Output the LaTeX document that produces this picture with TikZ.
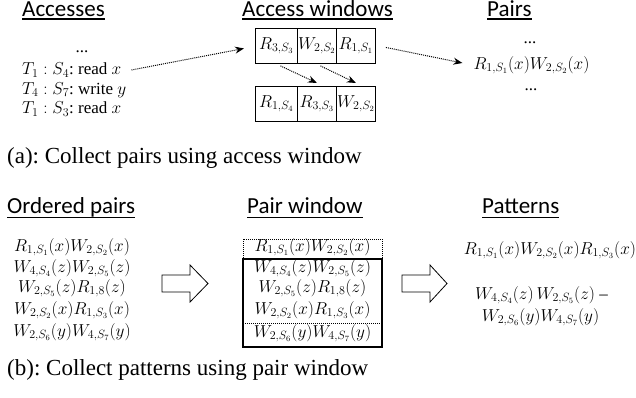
\documentclass[tikz,border=0pt]{standalone}
\usepackage{fontspec}
\setmainfont{Liberation Serif}
\newfontfamily\headfont{Carlito}
\usetikzlibrary{arrows.meta}
\frenchspacing
\begin{document}
\begin{tikzpicture}[x=1pt,y=-1pt]
\tikzset{
  head/.style={font=\headfont\fontsize{23}{26}\selectfont, inner sep=0, anchor=base west},
  uline/.style={line width=1.8pt},
  mtext/.style={font=\fontsize{17}{20}\selectfont, inner sep=0},
  captext/.style={font=\fontsize{23}{26}\selectfont, inner sep=0, anchor=west},
  cell/.style={draw, line width=0.9pt, minimum height=35pt, inner sep=0, anchor=north west, font=\fontsize{17}{20}\selectfont},
  dotarrow/.style={densely dotted, line width=1pt, -{Stealth[length=9pt,width=7pt]}},
  blockarrow/.style={draw, line width=0.8pt, fill=white},
  winsolid/.style={draw, line width=1.2pt},
  windot/.style={draw, densely dotted, line width=1pt},
}
\useasboundingbox (0,0) rectangle (636,398);

% ---- headings (a)
\node[head] (h1) at (22,16.5) {Accesses};
\node[head] (h2) at (242,16.5) {Access windows};
\node[head] (h3) at (487,16.5) {Pairs};
\foreach \h in {h1,h2,h3}{\draw[uline] ([yshift=-2.5pt]\h.base west) -- ([yshift=-2.5pt]\h.base east);}

% ---- accesses
\node[mtext] (dots1) at (82,52) {...};
\node[mtext, anchor=west] (acc1) at (22,70) {$T_1 : S_4$: read $x$};
\node[mtext, anchor=west] (acc2) at (22,90) {$T_4 : S_7$: write $y$};
\node[mtext, anchor=west] (acc3) at (22,109) {$T_1 : S_3$: read $x$};

% ---- access windows
\node[cell, minimum width=42pt] (t1) at (255,28) {$R_{3,S_3}$};
\node[cell, minimum width=39pt] (t2) at (297,28) {$W_{2,S_2}$};
\node[cell, minimum width=39pt] (t3) at (336,28) {$R_{1,S_1}$};
\node[cell, minimum width=42pt] (b1) at (255,86) {$R_{1,S_4}$};
\node[cell, minimum width=39pt] (b2) at (297,86) {$R_{3,S_3}$};
\node[cell, minimum width=39pt] (b3) at (336,86) {$W_{2,S_2}$};

% ---- pairs
\node[mtext] (dots2) at (530,43) {...};
\node[mtext] (pair) at (531.5,65) {$R_{1,S_1}(x)W_{2,S_2}(x)$};
\node[mtext] (dots3) at (531,90) {...};

% ---- dotted arrows
\draw[dotarrow] ([xshift=10pt]acc1.east) -- ([xshift=-11pt,yshift=-2.5pt]t1.west);
\draw[dotarrow] ([xshift=10pt,yshift=-1.5pt]t3.east) -- ([xshift=-11pt,yshift=2pt]pair.west);
\draw[dotarrow] ([xshift=4pt,yshift=-2pt]t1.south) -- ([yshift=3pt]b2.north);
\draw[dotarrow] ([xshift=3.5pt,yshift=-2pt]t2.south) -- ([yshift=3pt]b3.north);

\node[captext] (capa) at (7,158) {(a): Collect pairs using access window};

% ---- headings (b)
\node[head] (h4) at (7,213.5) {Ordered pairs};
\node[head] (h5) at (247,213.5) {Pair window};
\node[head] (h6) at (482,213.5) {Patterns};
\foreach \h in {h4,h5,h6}{\draw[uline] ([yshift=-4pt]\h.base west) -- ([yshift=-4pt]\h.base east);}

% ---- ordered pairs
\node[mtext] (o1) at (72,247) {$R_{1,S_1}(x)W_{2,S_2}(x)$};
\node[mtext] (o2) at (72,268) {$W_{4,S_4}(z)W_{2,S_5}(z)$};
\node[mtext] (o3) at (72,288) {$W_{2,S_5}(z)R_{1,8}(z)$};
\node[mtext] (o4) at (72,310) {$W_{2,S_2}(x)R_{1,S_3}(x)$};
\node[mtext] (o5) at (72,332) {$W_{2,S_6}(y)W_{4,S_7}(y)$};

% ---- block arrows
\draw[blockarrow] (162,275) -- (190,275) -- (190,265) -- (208,283.5) -- (190,302) -- (190,292) -- (162,292) -- cycle;
\draw[blockarrow] (402,275) -- (430,275) -- (430,265) -- (447,283.5) -- (430,302) -- (430,292) -- (402,292) -- cycle;

% ---- pair window
\draw[windot] (243,239) rectangle (382,259);
\draw[winsolid] (243,259) rectangle (382,347);
\draw[windot] (243,323) -- (382,323);
\node[mtext] (w1) at (312.5,247) {$R_{1,S_1}(x)W_{2,S_2}(x)$};
\node[mtext] (w2) at (312.5,268) {$W_{4,S_4}(z)W_{2,S_5}(z)$};
\node[mtext] (w3) at (312.5,288) {$W_{2,S_5}(z)R_{1,8}(z)$};
\node[mtext] (w4) at (312.5,310) {$W_{2,S_2}(x)R_{1,S_3}(x)$};
\node[mtext] (w5) at (312.5,333) {$W_{2,S_6}(y)W_{4,S_7}(y)$};

% ---- patterns
\node[mtext] (p1) at (550,250) {$R_{1,S_1}(x)W_{2,S_2}(x)R_{1,S_3}(x)$};
\node[mtext] (p2) at (541.5,295) {$W_{4,S_4}(z)\,W_{2,S_5}(z)$ --};
\node[mtext] (p3) at (540.5,317) {$W_{2,S_6}(y)W_{4,S_7}(y)$};

\node[captext] (capb) at (7,370) {(b): Collect patterns using pair window};
\end{tikzpicture}
\end{document}
